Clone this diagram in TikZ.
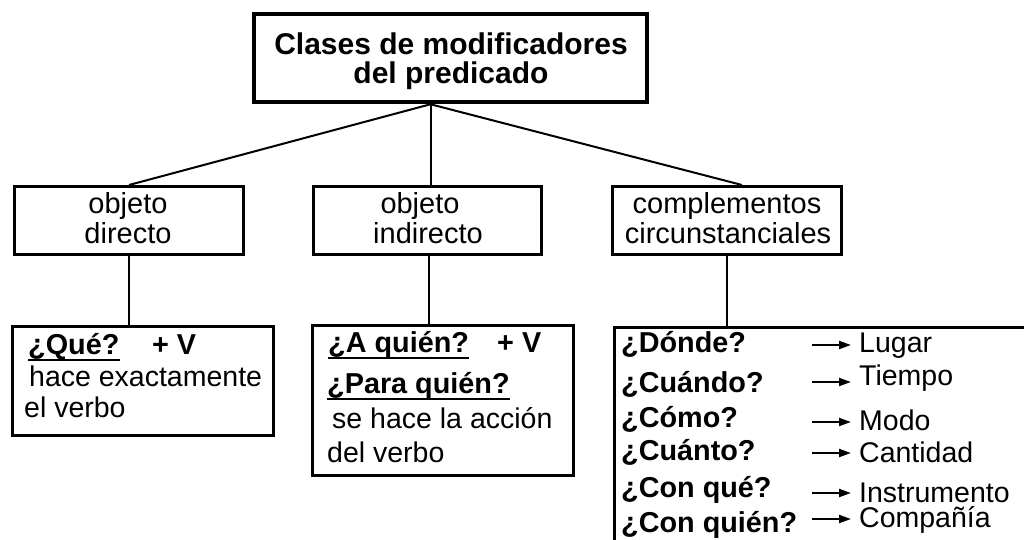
\documentclass[tikz,border=0pt]{standalone}
\usepackage{fontspec}
\setmainfont{Liberation Sans}
\usetikzlibrary{arrows.meta}
\begin{document}
\begin{tikzpicture}[x=1pt,y=-1pt,
 box/.style={draw,line width=3pt,inner sep=0pt,rectangle},
 conn/.style={line width=2pt},
 ltxt/.style={inner sep=0pt,anchor=base west,font=\fontsize{28.5}{30}\selectfont},
 ctxt/.style={inner sep=0pt,anchor=base,font=\fontsize{29}{30}\selectfont},
 btxt/.style={inner sep=0pt,anchor=base west,font=\fontsize{28.8}{30}\selectfont\bfseries},
 ttxt/.style={inner sep=0pt,anchor=base,font=\fontsize{30}{30}\selectfont\bfseries},
 ul/.style={line width=2pt},
 arr/.style={line width=2pt,-{Triangle[length=12pt,width=8pt]}}]
\useasboundingbox (0,0) rectangle (1024,540);
\clip (0,0) rectangle (1024,540);
% title
\node[box,line width=4.5pt,minimum width=393pt,minimum height=88pt] (top) at (450.5,58) {};
\node[ttxt] (t1) at (451,55) {Clases de modificadores};
\node[ttxt] (t2) at (451,84) {del predicado};
% second row
\node[box,minimum width=229pt,minimum height=68pt] (lbox) at (129,220.5) {};
\node[box,minimum width=228pt,minimum height=68pt] (mbox) at (427.5,220.5) {};
\node[box,minimum width=229pt,minimum height=68pt] (rbox) at (727,220.5) {};
\node[ctxt] (l1) at (128,213) {objeto};
\node[ctxt] (l2) at (128,243) {directo};
\node[ctxt] (m1) at (420,213) {objeto};
\node[ctxt] (m2) at (428,243) {indirecto};
\node[ctxt] (r1) at (727,213) {complementos};
\node[ctxt] (r2) at (728,243) {circunstanciales};
% lower row
\node[box,minimum width=261pt,minimum height=109pt] (llow) at (143,381) {};
\node[box,minimum width=261pt,minimum height=150pt] (mlow) at (443,400.5) {};
\node[box,minimum width=500pt,minimum height=300pt,anchor=north west] (rlow) at (612.5,325.5) {};
% connectors
\coordinate (j) at ([xshift=3pt]top.south -| mbox.north);
\draw[conn] (j) -- (lbox.north);
\draw[conn] (j) -- (j |- mbox.north);
\draw[conn] (j) -- ([xshift=15pt]rbox.north);
\draw[conn] (lbox.south) -- (lbox.south |- llow.north);
\draw[conn] ([xshift=1.5pt]mbox.south) -- ([xshift=1.5pt]mbox.south |- mlow.north);
\draw[conn] (rbox.south) -- (rbox.south |- rlow.north);
% lower-left text
\node[btxt] (q1) at (28,354) {¿Qué?};
\draw[ul] ([yshift=-6pt]q1.base west) -- ([yshift=-6pt]q1.base east);
\node[btxt] (v1) at (152,354) {+ V};
\node[ltxt] (h1) at (29,386) {hace exactamente};
\node[ltxt] (h2) at (24,417) {el verbo};
% lower-mid text
\node[btxt] (q2) at (328,352) {¿A quién?};
\draw[ul] ([yshift=-5.5pt]q2.base west) -- ([yshift=-5.5pt]q2.base east);
\node[btxt] (v2) at (497,352) {+ V};
\node[btxt] (q3) at (327,393) {¿Para quién?};
\draw[ul] ([yshift=-5.5pt]q3.base west) -- ([yshift=-5.5pt]q3.base east);
\node[ltxt] (h3) at (332,428) {se hace la acción};
\node[ltxt] (h4) at (327,462) {del verbo};
% lower-right text
\node[btxt] (c1) at (621,352) {¿Dónde?};
\node[btxt] (c2) at (621,392) {¿Cuándo?};
\node[btxt] (c3) at (621,427) {¿Cómo?};
\node[btxt] (c4) at (621,460) {¿Cuánto?};
\node[btxt] (c5) at (621,497) {¿Con qué?};
\node[btxt] (c6) at (621,532) {¿Con quién?};
\node[ltxt] (d1) at (859,352) {Lugar};
\node[ltxt] (d2) at (859,385) {Tiempo};
\node[ltxt] (d3) at (859,430) {Modo};
\node[ltxt] (d4) at (859,462) {Cantidad};
\node[ltxt,text depth=0pt] (d5) at (859,502) {Instrumento};
\node[ltxt,text height=20pt] (d6) at (859,527) {Compañía};
\foreach \i/\y in {1/345,2/382,3/422,4/453,5/493,6/519}{
  \coordinate (s\i) at (812,\y);
  \coordinate (e\i) at (851,\y);
  \draw[arr] (s\i) -- (e\i);
}
\end{tikzpicture}
\end{document}
